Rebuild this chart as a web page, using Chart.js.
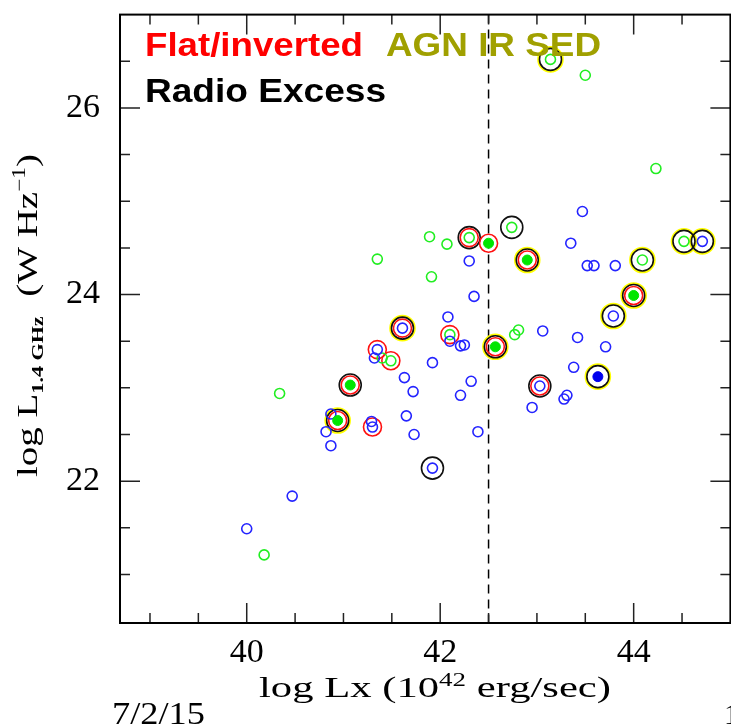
<!DOCTYPE html>
<html><head><meta charset="utf-8">
<script src="https://cdn.jsdelivr.net/npm/chart.js@4.4.1/dist/chart.umd.min.js"></script>
<style>
html,body{margin:0;padding:0;background:#fff;overflow:hidden;width:731px;height:728px}
#wrap{position:relative;width:745px;height:728px}
canvas{display:block}
</style></head><body><div id="wrap"><canvas id="c" width="745" height="728"></canvas></div>
<script>
// ---------- data (log Lx, log L1.4GHz) ----------
const blueOpen = [[40.00,21.49],[40.47,21.84],[40.82,22.53],[40.87,22.38],[40.87,22.72],[41.29,22.64],[41.30,22.58],
 [41.35,23.41],[41.32,23.32],[41.61,23.64],[41.63,23.11],[41.65,22.70],[41.72,22.96],[41.73,22.50],[41.92,23.27],
 [41.92,22.14],[42.08,23.76],[42.10,23.50],[42.21,23.45],[42.25,23.46],[42.21,22.92],[42.30,24.36],[42.32,23.07],
 [42.35,23.98],[42.39,22.53],[42.95,22.79],[43.03,23.02],[43.06,23.61],[43.28,22.88],[43.31,22.92],[43.38,23.22],
 [43.42,23.54],[43.35,24.55],[43.47,24.89],[43.52,24.31],[43.59,24.31],[43.71,23.44],[43.81,24.31],[43.79,23.77],[44.71,24.57]];
const greenOpen = [[40.18,21.21],[40.34,22.94],[41.35,24.38],[41.40,23.32],[41.49,23.29],[41.89,24.62],[41.91,24.19],
 [42.07,24.54],[42.10,23.57],[42.30,24.61],[42.74,24.72],[42.77,23.57],[42.81,23.62],[43.14,26.52],[43.50,26.35],
 [44.23,25.35],[44.09,24.37],[44.52,24.57]];
const greenFilled = [[40.94,22.65],[41.07,23.03],[42.50,24.55],[42.90,24.37],[42.57,23.44],[44.00,23.99]];
const blueFilled = [[43.63,23.12]];
const flatInverted = [[40.94,22.65],[41.07,23.03],[41.30,22.58],[41.35,23.41],[41.49,23.29],[41.61,23.64],[42.10,23.57],
 [42.30,24.61],[42.50,24.55],[42.90,24.37],[42.57,23.44],[43.03,23.02],[44.00,23.99]];
const radioExcess = [[40.94,22.65],[41.07,23.03],[41.61,23.64],[41.92,22.14],[42.30,24.61],[42.74,24.72],[42.90,24.37],
 [42.57,23.44],[43.03,23.02],[43.14,26.52],[44.09,24.37],[44.00,23.99],[43.79,23.77],[43.63,23.12],[44.52,24.57],[44.71,24.57]];
const agnIrSed = [[40.94,22.65],[41.61,23.64],[42.90,24.37],[42.57,23.44],[43.14,26.52],[44.09,24.37],[44.00,23.99],
 [43.79,23.77],[43.63,23.12],[44.52,24.57],[44.71,24.57]];

const xLabelValues = [40, 42, 44];
const yLabelValues = [22, 24, 26];
const xTickValues = [39,39.5,40,40.5,41,41.5,42,42.5,43,43.5,44,44.5];
const yTickValues = [21,21.5,22,22.5,23,23.5,24,24.5,25,25.5,26,26.5];
const dividerX = 42.5;
const xRange = [38.69, 45.0];
const yRange = [20.48, 27.0];

const pts = a => a.map(p => ({x:p[0], y:p[1]}));

function ds(data, color, fill, r, bw){
  return {data: pts(data), showLine:false, pointStyle:'circle', pointRadius:r, pointHoverRadius:r,
    pointBorderWidth:bw, pointHoverBorderWidth:bw, borderColor:color, pointBorderColor:color,
    pointBackgroundColor: fill ? color : 'rgba(0,0,0,0)', backgroundColor: fill ? color : 'rgba(0,0,0,0)'};
}

const SERIF = '"Liberation Serif", "Times New Roman", serif';
const SANS = '"Liberation Sans", Arial, sans-serif';

function drawParts(ctx, parts, x, y, targetW){
  let w = 0;
  parts.forEach(p => { ctx.font = p.font; p.w = ctx.measureText(p.t).width; w += p.w; });
  const s = targetW / w;
  ctx.save(); ctx.translate(x, y); ctx.scale(s, 1);
  let cx = 0;
  parts.forEach(p => { ctx.font = p.font; ctx.fillStyle = p.color || '#000'; ctx.textBaseline='alphabetic'; ctx.textAlign='left';
    ctx.fillText(p.t, cx, p.dy || 0); cx += p.w; });
  ctx.restore();
}

const decor = {
  id:'decor',
  beforeDatasetsDraw(chart){
    const {ctx, chartArea:a, scales:{x}} = chart;
    const px = x.getPixelForValue(dividerX);
    ctx.save(); ctx.strokeStyle='#000'; ctx.lineWidth=1.5; ctx.setLineDash([9,6]);
    ctx.beginPath(); ctx.moveTo(px, a.top); ctx.lineTo(px, a.bottom); ctx.stroke(); ctx.restore();
  },
  afterDraw(chart){
    const {ctx, chartArea:a, scales:{x, y}} = chart;
    ctx.save();
    ctx.strokeStyle = '#222'; ctx.lineWidth = 1.5;
    ctx.beginPath();
    xTickValues.forEach(v => {
      const p = x.getPixelForValue(v); const L = xLabelValues.includes(v) ? 20 : 10;
      ctx.moveTo(p, a.bottom); ctx.lineTo(p, a.bottom - L);
      ctx.moveTo(p, a.top); ctx.lineTo(p, a.top + L);
    });
    yTickValues.forEach(v => {
      const p = y.getPixelForValue(v); const L = yLabelValues.includes(v) ? 20 : 10;
      ctx.moveTo(a.left, p); ctx.lineTo(a.left + L, p);
      ctx.moveTo(a.right, p); ctx.lineTo(a.right - L, p);
    });
    ctx.stroke();
    ctx.strokeStyle = '#000'; ctx.lineWidth = 2;
    ctx.strokeRect(a.left, a.top, a.right - a.left, a.bottom - a.top);
    ctx.restore();

    // legend-like labels
    drawParts(ctx, [{t:'Flat/inverted', font:'bold 33px '+SANS, color:'#ff0000'}], 145, 56, 218);
    drawParts(ctx, [{t:'AGN IR SED', font:'bold 33px '+SANS, color:'#a0a000'}], 386, 56, 215);
    drawParts(ctx, [{t:'Radio Excess', font:'bold 33px '+SANS, color:'#000'}], 145, 102, 241);

    // x title
    drawParts(ctx, [
      {t:'log Lx (10', font:'30px '+SERIF},
      {t:'42', font:'19px '+SERIF, dy:-11},
      {t:' erg/sec)', font:'30px '+SERIF}
    ], 259, 697, 352);

    // y title
    ctx.save(); ctx.translate(37, 477); ctx.rotate(-Math.PI/2);
    drawParts(ctx, [
      {t:'log L', font:'30px '+SERIF},
      {t:'1.4 GHz', font:'bold 17px '+SERIF, dy:6},
      {t:'  (W Hz', font:'30px '+SERIF},
      {t:'\u22121', font:'18px '+SERIF, dy:-12},
      {t:')', font:'30px '+SERIF}
    ], 0, 0, 323);
    ctx.restore();

    // footer
    drawParts(ctx, [{t:'7/2/15', font:'32px '+SERIF}], 112, 724, 93);
    ctx.save(); ctx.font = '30px '+SERIF; ctx.fillStyle='#000'; ctx.textBaseline='alphabetic';
    ctx.fillText('1', 724, 724); ctx.restore();
  }
};

new Chart(document.getElementById('c'), {
  type:'scatter',
  data:{datasets:[
    ds(greenFilled, '#00e600', true, 5, 1),
    ds(blueFilled, '#0000ee', true, 5, 1),
    ds(blueOpen, '#2424ff', false, 5, 1.6),
    ds(greenOpen, '#22ee22', false, 5, 1.6),
    ds(flatInverted, '#ff1010', false, 9, 1.6),
    ds(radioExcess, '#111111', false, 11, 1.6),
    ds(agnIrSed, '#ffff00', false, 12, 2.6)
  ]},
  options:{
    responsive:false, animation:false, devicePixelRatio:1,
    layout:{padding:{top:10, right:13, left:0, bottom:0}},
    plugins:{legend:{display:false}, tooltip:{enabled:false}},
    scales:{
      x:{type:'linear', min:xRange[0], max:xRange[1],
        grid:{display:false, drawTicks:false}, border:{display:false},
        afterBuildTicks: s => { s.ticks = xLabelValues.map(v => ({value:v})); },
        afterFit: s => { s.height = 105; s.paddingLeft = 0; s.paddingRight = 0; },
        ticks:{padding:10, color:'#000', font:{family:SERIF, size:34}, maxRotation:0, autoSkip:false,
          callback: v => String(v)}},
      y:{type:'linear', min:yRange[0], max:yRange[1],
        grid:{display:false, drawTicks:false}, border:{display:false},
        afterBuildTicks: s => { s.ticks = yLabelValues.map(v => ({value:v})); },
        afterFit: s => { s.width = 120; s.paddingTop = 0; s.paddingBottom = 0; },
        ticks:{padding:20, color:'#000', font:{family:SERIF, size:34}, autoSkip:false,
          callback: v => String(v)}}
    }
  },
  plugins:[decor]
});
</script></body></html>
